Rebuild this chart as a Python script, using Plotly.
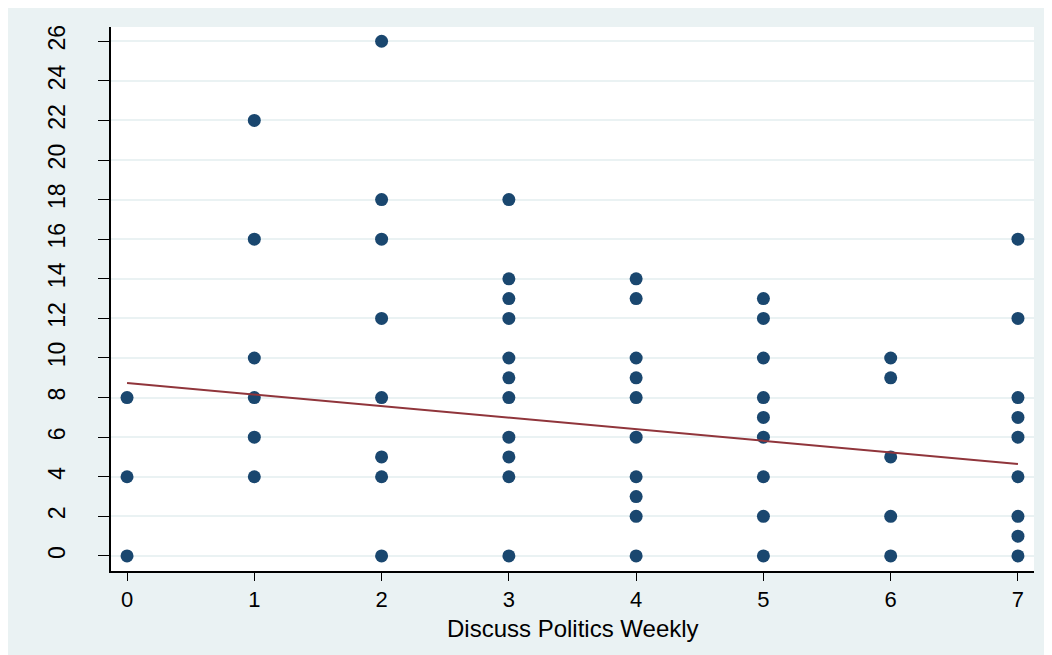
import plotly.graph_objects as go

# Data
x_0 = [0, 0, 0]
y_0 = [8, 4, 0]
x_1 = [1] * 6
y_1 = [22, 16, 10, 8, 6, 4]
x_2 = [2] * 8
y_2 = [26, 18, 16, 12, 8, 5, 4, 0]
x_3 = [3] * 11
y_3 = [18, 14, 13, 12, 10, 9, 8, 6, 5, 4, 0]
x_4 = [4] * 10
y_4 = [14, 13, 10, 9, 8, 6, 4, 3, 2, 0]
x_5 = [5] * 9
y_5 = [13, 12, 10, 8, 7, 6, 4, 2, 0]
x_6 = [6] * 5
y_6 = [10, 9, 5, 2, 0]
x_7 = [7] * 9
y_7 = [16, 12, 8, 7, 6, 4, 2, 1, 0]

fit_x = [0, 7]
fit_y = [8.74, 4.65]

x_ticks = [0, 1, 2, 3, 4, 5, 6, 7]
y_ticks = list(range(0, 27, 2))
x_title = "Discuss Politics Weekly"

xs = x_0 + x_1 + x_2 + x_3 + x_4 + x_5 + x_6 + x_7
ys = y_0 + y_1 + y_2 + y_3 + y_4 + y_5 + y_6 + y_7

BG = "#EAF2F3"
FONT = "Liberation Sans, Arial, sans-serif"

fig = go.Figure()
fig.add_trace(go.Scatter(
    x=xs, y=ys, mode="markers",
    marker=dict(symbol="circle", size=13, color="#1A476F", line=dict(width=0)),
    showlegend=False, hoverinfo="x+y",
))
fig.add_trace(go.Scatter(
    x=fit_x, y=fit_y, mode="lines",
    line=dict(color="#90353B", width=2),
    showlegend=False,
))

fig.update_layout(
    width=1044, height=647,
    margin=dict(l=103, r=18, t=19, b=84),
    paper_bgcolor=BG, plot_bgcolor="white",
    font=dict(family=FONT, size=22, color="black"),
    xaxis=dict(
        range=[-0.126, 7.126], tickvals=x_ticks, ticktext=[str(v) for v in x_ticks],
        showgrid=False, zeroline=False,
        showline=True, linecolor="black", linewidth=1.5,
        ticks="outside", ticklen=8, tickcolor="black", tickwidth=1,
        tickfont=dict(size=22, family=FONT),
    ),
    yaxis=dict(
        range=[-0.76, 26.72], tickvals=y_ticks, ticktext=[str(v) for v in y_ticks],
        showgrid=True, gridcolor=BG, gridwidth=2, zeroline=False,
        showline=True, linecolor="black", linewidth=1.5,
        ticks="outside", ticklen=11, tickcolor="black", tickwidth=1,
        tickangle=-90, tickfont=dict(size=23, family=FONT),
        ticklabelstandoff=24,
    ),
    annotations=[dict(
        text=x_title, xref="paper", yref="paper", x=0.5, y=-0.106,
        xanchor="center", yanchor="middle", showarrow=False,
        font=dict(size=24, family=FONT, color="black"),
    )],
)

fig.write_html("out.html")
